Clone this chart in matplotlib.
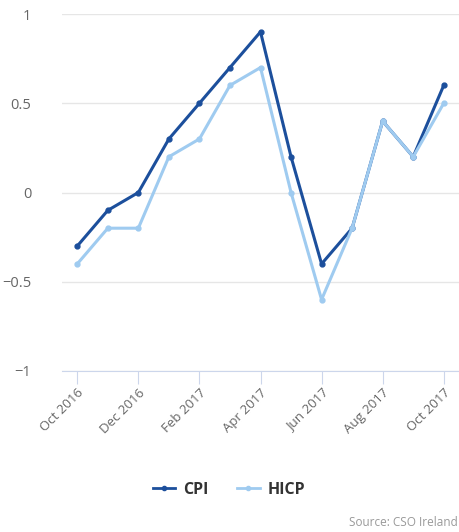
import matplotlib
matplotlib.use("Agg")
import matplotlib.pyplot as plt
from matplotlib.lines import Line2D

plt.rcParams['font.family'] = ['Open Sans', 'DejaVu Sans']

months = ['Oct 2016', 'Nov 2016', 'Dec 2016', 'Jan 2017', 'Feb 2017', 'Mar 2017', 'Apr 2017',
          'May 2017', 'Jun 2017', 'Jul 2017', 'Aug 2017', 'Sep 2017', 'Oct 2017']
cpi = [-0.3, -0.1, 0.0, 0.3, 0.5, 0.7, 0.9, 0.2, -0.4, -0.2, 0.4, 0.2, 0.6]
hicp = [-0.4, -0.2, -0.2, 0.2, 0.3, 0.6, 0.7, 0.0, -0.6, -0.2, 0.4, 0.2, 0.5]
yticks = [-1, -0.5, 0, 0.5, 1]
ylabels = ['\u22121', '\u22120.5', '0', '0.5', '1']

c_cpi = '#1c4f9c'
c_hicp = '#9fcbf0'

fig = plt.figure(figsize=(4.59, 5.32), dpi=100)
ax = fig.add_axes([62 / 459, 1 - 371 / 532, 1 - 62 / 459, (371 - 14) / 532])

x = list(range(len(months)))
ax.plot(x, cpi, color=c_cpi, lw=2.2, marker='o', ms=3.5, zorder=3)
ax.plot(x, hicp, color=c_hicp, lw=2.2, marker='o', ms=3.5, zorder=4)

ax.set_xlim(-0.5, len(months) - 0.5)
ax.set_ylim(-1, 1)
ax.set_yticks(yticks)
ax.set_yticklabels(ylabels)
ax.grid(axis='y', color='#e6e6e6', lw=1)
ax.set_axisbelow(True)

ax.set_xticks(x[::2])
ax.set_xticklabels(months[::2], rotation=45, ha='right', rotation_mode='anchor')

for s in ['top', 'right', 'left']:
    ax.spines[s].set_visible(False)
ax.spines['bottom'].set_color('#ccd6eb')
ax.tick_params(axis='y', length=0, pad=22, labelsize=10.5, labelcolor='#666666')
ax.tick_params(axis='x', length=9, color='#ccd6eb', pad=2, labelsize=9.5, labelcolor='#666666')

handles = [Line2D([], [], color=c_cpi, lw=2, marker='o', ms=3),
           Line2D([], [], color=c_hicp, lw=2, marker='o', ms=3)]
fig.legend(handles, ['CPI', 'HICP'], loc='center', bbox_to_anchor=(229 / 459, 1 - 490 / 532),
           ncol=2, frameon=False, handlelength=1.4, handletextpad=0.5, columnspacing=1.8,
           prop={'size': 11.5, 'weight': 'bold'}, labelcolor='#333333')

fig.text(458 / 459, 1 - 523 / 532, 'Source: CSO Ireland', ha='right', va='center',
         fontsize=8.5, color='#999999')

fig.savefig('out.png', dpi=100)
